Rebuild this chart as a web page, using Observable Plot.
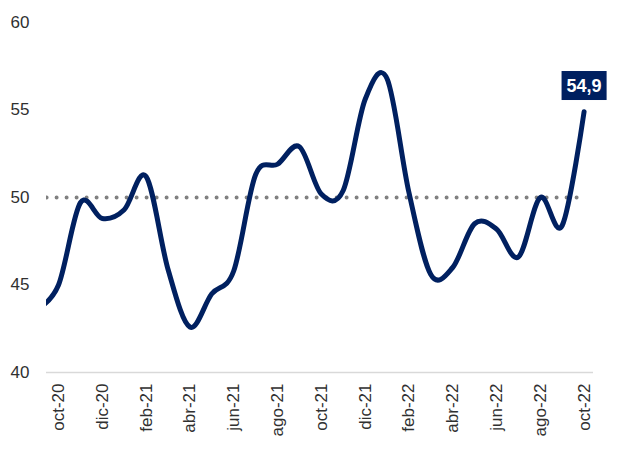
<!DOCTYPE html>
<html>
<head>
<meta charset="utf-8">
<script src="https://cdn.jsdelivr.net/npm/d3@7"></script>
<script src="https://cdn.jsdelivr.net/npm/@observablehq/plot@0.6"></script>
<style>
  html, body { margin: 0; padding: 0; background: #fff; }
  #chart { width: 635px; height: 450px; }
</style>
</head>
<body>
<div id="chart"></div>
<script>
// Months (sep-20 lies just left of the visible axis range and is clipped, as in the source)
const months = ["sep-20","oct-20","nov-20","dic-20","ene-21","feb-21","mar-21","abr-21","may-21","jun-21","jul-21","ago-21","sep-21","oct-21","nov-21","dic-21","ene-22","feb-22","mar-22","abr-22","may-22","jun-22","jul-22","ago-22","sep-22","oct-22"];
const values = [43.6, 45.0, 49.7, 48.8, 49.3, 51.2, 45.9, 42.6, 44.5, 45.8, 51.3, 51.9, 52.9, 50.2, 50.4, 55.6, 56.8, 50.3, 45.6, 46.0, 48.5, 48.2, 46.6, 50.0, 48.4, 54.9];
const threshold = 50;
const yTicks = [40, 45, 50, 55, 60];
const xTickMonths = ["oct-20","dic-20","feb-21","abr-21","jun-21","ago-21","oct-21","dic-21","feb-22","abr-22","jun-22","ago-22","oct-22"];
const lastLabel = "54,9";

const data = months.map((m, k) => ({pos: k - 1, month: m, value: values[k]}));
const thresholdData = months.map((m, k) => ({pos: k - 1, value: threshold}));
const last = data[data.length - 1];

const navy = "#002060";

const chart = Plot.plot({
  width: 635,
  height: 450,
  marginLeft: 46,
  marginRight: 42,
  marginTop: 22,
  marginBottom: 78,
  style: {fontFamily: "'Liberation Sans', Arial, sans-serif", fontSize: "17px", color: "#303030", background: "#fff"},
  x: {domain: [-0.548, 24.43]},
  y: {domain: [40, 60]},
  marks: [
    Plot.ruleY([40], {stroke: "#d9d9d9", strokeWidth: 1.5}),
    Plot.axisY({ticks: yTicks, tickSize: 0, tickPadding: 17, label: null, fontSize: 17}),
    Plot.axisX({
      ticks: xTickMonths.map(m => months.indexOf(m) - 1),
      tickFormat: p => months[p + 1],
      tickSize: 0,
      tickPadding: 11,
      tickRotate: -90,
      label: null,
      fontSize: 17
    }),
    Plot.line(thresholdData, {x: "pos", y: "value", stroke: "#808080", strokeWidth: 4, strokeDasharray: "0 10", strokeLinecap: "round", clip: true}),
    Plot.line(data, {x: "pos", y: "value", stroke: navy, strokeWidth: 5, curve: "cardinal", clip: true}),
    Plot.text([last], {x: "pos", y: "value", text: () => lastLabel, dy: -26, fill: "white", fontWeight: "bold", fontSize: 18, className: "last-label"})
  ]
});

document.getElementById("chart").appendChild(chart);

// Dark box behind the last-value label
chart.querySelectorAll(".last-label text").forEach(t => {
  const b = t.getBBox();
  const padX = 5, padY = 4.5;
  const rect = document.createElementNS("http://www.w3.org/2000/svg", "rect");
  rect.setAttribute("x", b.x - padX);
  rect.setAttribute("y", b.y - padY);
  rect.setAttribute("width", b.width + 2 * padX);
  rect.setAttribute("height", b.height + 2 * padY);
  rect.setAttribute("fill", navy);
  const tr = t.getAttribute("transform");
  if (tr) rect.setAttribute("transform", tr);
  t.parentNode.insertBefore(rect, t);
});
</script>
</body>
</html>
